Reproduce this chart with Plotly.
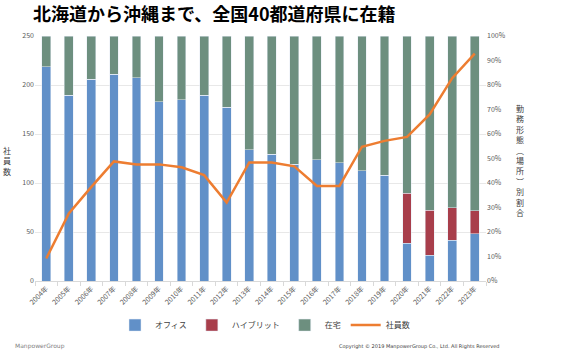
import plotly.graph_objects as go

years = [f"{y}年" for y in range(2004, 2024)]
office = [0.875, 0.759, 0.823, 0.844, 0.830, 0.732, 0.740, 0.758, 0.710, 0.535,
          0.518, 0.476, 0.494, 0.482, 0.450, 0.431, 0.154, 0.106, 0.167, 0.192]
hybrid = [0, 0, 0, 0, 0, 0, 0, 0, 0, 0,
          0, 0, 0, 0, 0, 0, 0.204, 0.182, 0.132, 0.094]
remote = [0.125, 0.241, 0.177, 0.156, 0.170, 0.268, 0.260, 0.242, 0.290, 0.465,
          0.482, 0.524, 0.506, 0.518, 0.550, 0.569, 0.642, 0.712, 0.701, 0.714]
employees = [23, 69, 96, 122, 119, 119, 116, 108, 80, 121,
             121, 117, 97, 97, 137, 143, 147, 170, 207, 232]

FONT = "Noto Sans CJK JP"
GRAY = "#595959"

fig = go.Figure()
fig.add_trace(go.Bar(x=years, y=office, name="オフィス", marker_color="#6190C8", yaxis="y"))
fig.add_trace(go.Bar(x=years, y=hybrid, name="ハイブリット", marker_color="#A83E4B", yaxis="y"))
fig.add_trace(go.Bar(x=years, y=remote, name="在宅", marker_color="#6D8F7F", yaxis="y"))
fig.add_trace(go.Scatter(x=years, y=employees, name="社員数", mode="lines",
                         line=dict(color="#ED7D31", width=2.5), yaxis="y2"))

fig.update_layout(
    width=567, height=354,
    margin=dict(l=35, r=81, t=36, b=73),
    paper_bgcolor="white", plot_bgcolor="white",
    barmode="stack", bargap=0.61,
    font=dict(family=FONT, size=7, color=GRAY),
    title=dict(text="<b>北海道から沖縄まで、全国40都道府県に在籍</b>",
               font=dict(family=FONT, size=18, color="black"),
               xref="container", x=33/567, xanchor="left",
               yref="container", y=1-15/354, yanchor="middle"),
    xaxis=dict(type="category", tickangle=-45, showline=True, linecolor="#D9D9D9",
               ticks="outside", tickson="boundaries", ticklen=4, tickcolor="#D9D9D9",
               tickfont=dict(size=7, color=GRAY), showgrid=False),
    yaxis=dict(side="right", range=[0, 1], dtick=0.1, tickformat=".0%",
               showgrid=False, zeroline=False, tickfont=dict(size=7, color=GRAY)),
    yaxis2=dict(overlaying="y", side="left", range=[0, 250], dtick=50,
                showgrid=True, gridcolor="#E8E8E8", zeroline=False,
                tickfont=dict(size=7, color=GRAY)),
    legend=dict(orientation="h", x=0.51, xanchor="center", y=-0.18, yanchor="middle",
                font=dict(size=8, color="#404040"), itemwidth=30,
                traceorder="normal"),
    annotations=[
        dict(text="社<br>員<br>数", xref="paper", yref="paper", x=-0.062, y=0.49,
             xanchor="center", yanchor="middle", showarrow=False,
             font=dict(size=8, color="#404040")),
        dict(text="勤<br>務<br>形<br>態<br>︵<br>場<br>所<br>︶<br>別<br>割<br>合",
             xref="paper", yref="paper", x=(520-35)/451, y=0.49,
             xanchor="center", yanchor="middle", showarrow=False,
             font=dict(size=8, color="#404040")),
        dict(text="ManpowerGroup", xref="paper", yref="paper", x=(13-35)/451,
             y=(281-346)/245, xanchor="left", yanchor="middle", showarrow=False,
             font=dict(family="DejaVu Sans", size=6, color="#7F7F7F")),
        dict(text="Copyright © 2019 ManpowerGroup Co., Ltd. All Rights Reserved",
             xref="paper", yref="paper", x=(502-35)/451,
             y=(281-346)/245, xanchor="right", yanchor="middle", showarrow=False,
             font=dict(family="DejaVu Sans", size=5, color="#404040")),
    ],
)

fig.write_html("out.html")
